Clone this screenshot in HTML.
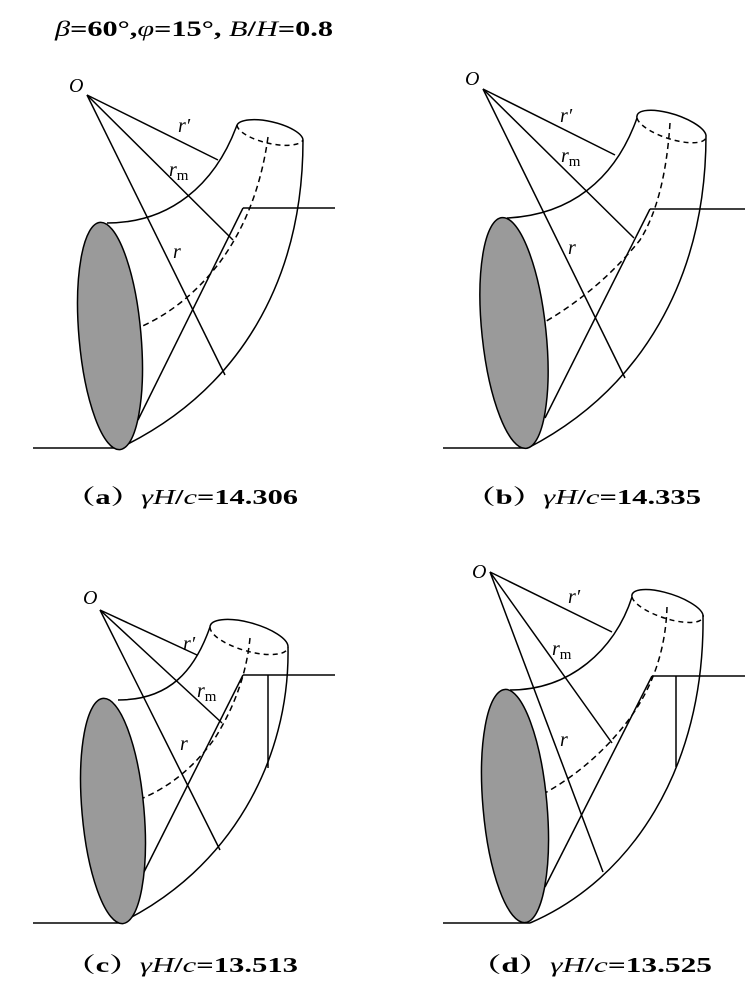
<!DOCTYPE html>
<html><head><meta charset="utf-8"><style>
html,body{margin:0;padding:0;background:#fff;}
svg{display:block;}
text{font-family:"Liberation Serif","Noto Serif CJK SC",serif;fill:#000;}
.b{font-weight:bold;}
.i{font-style:italic;font-weight:normal;}
</style></head><body>
<svg width="756" height="999" viewBox="0 0 756 999" xmlns="http://www.w3.org/2000/svg">
<g fill="none" stroke="#000" stroke-width="1.5">

<!-- Panel (a) -->
<line x1="33" y1="448" x2="120" y2="448"/>
<path d="M107,223 C170,223 215,185 237,125"/>
<path d="M237,125 A34,12 13 0 1 303,140"/>
<path d="M237,125 A34,12 13 0 0 303,140" stroke-dasharray="5,4"/>
<path d="M303,140 C303,280 240,390 120,448"/>
<path d="M268,137 Q258,210 220,262 Q185,308 138,328" stroke-dasharray="6,4"/>
<line x1="243" y1="208" x2="335" y2="208"/>
<line x1="243" y1="208" x2="138" y2="420"/>
<line x1="87" y1="95" x2="218" y2="160"/>
<line x1="87" y1="95" x2="233" y2="240"/>
<line x1="87" y1="95" x2="225" y2="375"/>
<ellipse cx="110" cy="336" rx="31" ry="114" transform="rotate(-5 110 336)" fill="#9a9a9a"/>

<!-- Panel (b) -->
<line x1="443" y1="448" x2="528" y2="448"/>
<path d="M507,218 C570,215 615,180 637,118"/>
<path d="M637,118 A35,12 18 0 1 706,135"/>
<path d="M637,118 A35,12 18 0 0 706,135" stroke-dasharray="5,4"/>
<path d="M706,135 C706,280 640,390 528,448"/>
<path d="M670,123 Q665,200 640,240 Q600,290 543,323" stroke-dasharray="6,4"/>
<line x1="650" y1="209" x2="745" y2="209"/>
<line x1="650" y1="209" x2="545" y2="418"/>
<line x1="483" y1="89" x2="615" y2="155"/>
<line x1="483" y1="89" x2="634" y2="238"/>
<line x1="483" y1="89" x2="625" y2="378"/>
<ellipse cx="514" cy="333" rx="32" ry="116" transform="rotate(-6 514 333)" fill="#9a9a9a"/>

<!-- Panel (c) -->
<line x1="33" y1="923" x2="120" y2="923"/>
<path d="M118,700 C170,700 195,670 210,627"/>
<path d="M210,627 A40,14 16 0 1 288,647"/>
<path d="M210,627 A40,14 16 0 0 288,647" stroke-dasharray="5,4"/>
<path d="M288,647 C290,760 230,870 120,923"/>
<path d="M250,638 Q245,690 215,738 Q185,780 143,798" stroke-dasharray="6,4"/>
<line x1="243" y1="675" x2="335" y2="675"/>
<line x1="268" y1="675" x2="268" y2="768"/>
<line x1="243" y1="675" x2="140" y2="880"/>
<line x1="100" y1="610" x2="197" y2="655"/>
<line x1="100" y1="610" x2="222" y2="723"/>
<line x1="100" y1="610" x2="220" y2="850"/>
<ellipse cx="113" cy="811" rx="31" ry="113" transform="rotate(-5 113 811)" fill="#9a9a9a"/>

<!-- Panel (d) -->
<line x1="443" y1="923" x2="530" y2="923"/>
<path d="M510,690 C570,690 615,650 632,597"/>
<path d="M632,597 A36,12 18 0 1 703,615"/>
<path d="M632,597 A36,12 18 0 0 703,615" stroke-dasharray="5,4"/>
<path d="M703,615 C705,770 630,880 530,923"/>
<path d="M667,607 Q665,670 630,718 Q595,765 545,793" stroke-dasharray="6,4"/>
<line x1="652" y1="676" x2="745" y2="676"/>
<line x1="676" y1="676" x2="676" y2="767"/>
<line x1="652" y1="676" x2="545" y2="887"/>
<line x1="490" y1="572" x2="612" y2="632"/>
<line x1="490" y1="572" x2="612" y2="743"/>
<line x1="490" y1="572" x2="603" y2="872"/>
<ellipse cx="515" cy="806" rx="32" ry="117" transform="rotate(-5 515 806)" fill="#9a9a9a"/>
</g>

<!-- labels -->
<g font-size="20" font-style="italic">
<text x="69" y="92">O</text>
<text x="178" y="132">r′</text>
<text x="169" y="176">r<tspan font-style="normal" font-size="15" dy="4">m</tspan></text>
<text x="173" y="258">r</text>

<text x="465" y="85">O</text>
<text x="560" y="122">r′</text>
<text x="561" y="162">r<tspan font-style="normal" font-size="15" dy="4">m</tspan></text>
<text x="568" y="254">r</text>

<text x="83" y="604">O</text>
<text x="183" y="650">r′</text>
<text x="197" y="697">r<tspan font-style="normal" font-size="15" dy="4">m</tspan></text>
<text x="180" y="750">r</text>

<text x="472" y="578">O</text>
<text x="568" y="603">r′</text>
<text x="552" y="655">r<tspan font-style="normal" font-size="15" dy="4">m</tspan></text>
<text x="560" y="746">r</text>
</g>

<text x="55" y="36" font-size="22" class="b" textLength="278" lengthAdjust="spacingAndGlyphs"><tspan class="i">β</tspan>=60°,<tspan class="i">φ</tspan>=15°, <tspan class="i">B</tspan>/<tspan class="i">H</tspan>=0.8</text>

<text x="65" y="504" font-size="21" class="b" textLength="233" lengthAdjust="spacingAndGlyphs">（a）<tspan class="i">γH</tspan>/<tspan class="i">c</tspan>=14.306</text>
<text x="465" y="504" font-size="21" class="b" textLength="236" lengthAdjust="spacingAndGlyphs">（b）<tspan class="i">γH</tspan>/<tspan class="i">c</tspan>=14.335</text>
<text x="65" y="972" font-size="21" class="b" textLength="233" lengthAdjust="spacingAndGlyphs">（c）<tspan class="i">γH</tspan>/<tspan class="i">c</tspan>=13.513</text>
<text x="470" y="972" font-size="21" class="b" textLength="242" lengthAdjust="spacingAndGlyphs">（d）<tspan class="i">γH</tspan>/<tspan class="i">c</tspan>=13.525</text>
</svg>
</body></html>
